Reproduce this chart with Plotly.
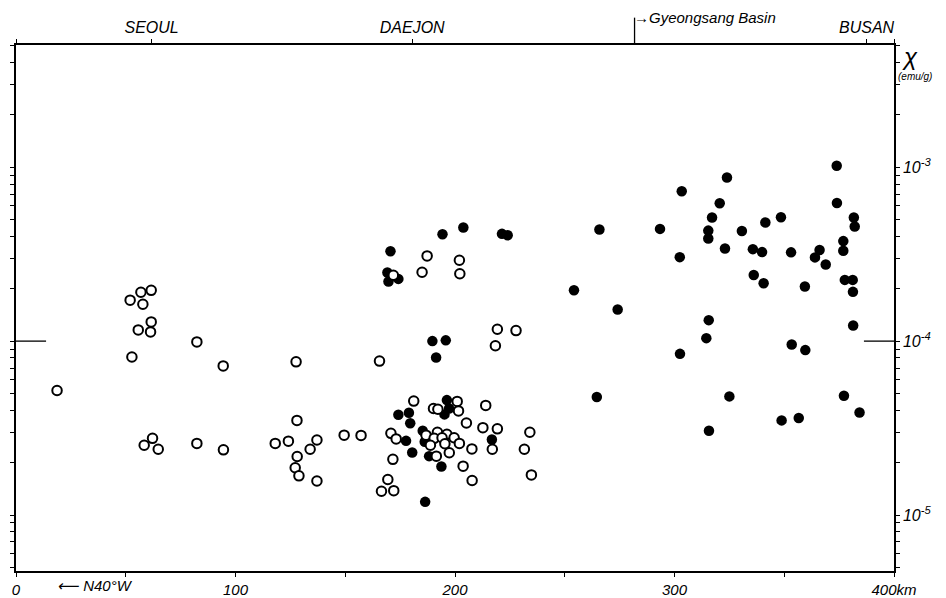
import plotly.graph_objects as go

# =====================================
# DATA  (distance along N40°W profile in km, susceptibility in emu/g)
# =====================================
OPEN_KM = [18.7, 52.0, 56.9, 61.6, 57.8, 61.6, 55.7, 61.3, 82.4, 52.8, 94.4, 127.6,
           128.0, 62.2, 58.4, 64.8, 82.4, 94.5, 118.1, 124.1, 137.1, 134.0, 128.1, 127.2,
           128.9, 137.1,
           187.3, 202.0, 185.0, 202.2, 171.9, 219.3, 227.8, 218.4, 165.6, 181.2, 201.0,
           190.2, 192.2, 201.6, 214.0, 205.2, 212.7, 219.3, 234.1, 149.5, 157.2, 170.8,
           173.2, 186.8, 192.0, 196.3, 199.6, 190.5, 194.1, 202.0, 188.8, 195.4, 207.7,
           217.0, 231.6, 197.4, 191.5, 171.7, 203.7, 234.8, 207.8, 169.4, 166.5, 172.1]
OPEN_CHI = [5.2e-5, 1.72e-4, 1.91e-4, 1.96e-4, 1.63e-4, 1.29e-4, 1.16e-4, 1.13e-4, 9.9e-5,
            8.1e-5, 7.2e-5, 7.6e-5, 3.5e-5, 2.76e-5, 2.52e-5, 2.39e-5, 2.58e-5, 2.37e-5,
            2.58e-5, 2.66e-5, 2.70e-5, 2.39e-5, 2.17e-5, 1.87e-5, 1.68e-5, 1.57e-5,
            3.09e-4, 2.92e-4, 2.49e-4, 2.44e-4, 2.39e-4, 1.17e-4, 1.15e-4, 9.4e-5, 7.68e-5,
            4.52e-5, 4.50e-5, 4.10e-5, 4.06e-5, 3.97e-5, 4.27e-5, 3.38e-5, 3.18e-5, 3.13e-5,
            2.99e-5, 2.88e-5, 2.87e-5, 2.95e-5, 2.74e-5, 2.88e-5, 2.99e-5, 2.91e-5, 2.78e-5,
            2.76e-5, 2.78e-5, 2.58e-5, 2.52e-5, 2.57e-5, 2.40e-5, 2.39e-5, 2.39e-5, 2.28e-5,
            2.18e-5, 2.09e-5, 1.91e-5, 1.70e-5, 1.58e-5, 1.60e-5, 1.37e-5, 1.38e-5]

FILLED_KM = [203.8, 194.3, 221.4, 224.0, 265.8, 170.6, 169.2, 169.7, 174.2, 254.2, 274.1,
             189.7, 195.8, 191.4, 264.6, 196.3, 197.3, 195.2, 174.2, 179.0, 179.6, 177.7,
             185.3, 186.2, 180.5, 188.2, 193.8, 216.8, 186.4,
             373.9, 323.9, 303.3, 320.6, 374.0, 317.1, 348.5, 381.7, 341.4, 382.1, 293.4,
             315.4, 330.7, 315.4, 376.9, 323.0, 335.7, 339.9, 353.1, 366.1, 376.9, 364.0,
             302.4, 368.9, 336.1, 340.6, 359.4, 377.6, 381.2, 381.3, 315.6, 381.4, 314.5,
             302.5, 353.4, 359.6, 325.0, 377.2, 384.3, 348.8, 356.6, 315.7]
FILLED_CHI = [4.50e-4, 4.12e-4, 4.14e-4, 4.06e-4, 4.38e-4, 3.29e-4, 2.48e-4, 2.20e-4, 2.28e-4,
              1.96e-4, 1.52e-4, 1.00e-4, 1.01e-4, 8.05e-5, 4.77e-5, 4.58e-5, 4.10e-5, 3.79e-5,
              3.77e-5, 3.87e-5, 3.37e-5, 2.67e-5, 3.05e-5, 2.64e-5, 2.29e-5, 2.18e-5, 1.90e-5,
              2.72e-5, 1.19e-5,
              1.02e-3, 8.73e-4, 7.28e-4, 6.21e-4, 6.23e-4, 5.14e-4, 5.16e-4, 5.14e-4, 4.81e-4,
              4.56e-4, 4.42e-4, 4.32e-4, 4.30e-4, 3.89e-4, 3.76e-4, 3.41e-4, 3.38e-4, 3.25e-4,
              3.24e-4, 3.34e-4, 3.31e-4, 3.03e-4, 3.04e-4, 2.76e-4, 2.40e-4, 2.15e-4, 2.06e-4,
              2.25e-4, 2.25e-4, 1.92e-4, 1.32e-4, 1.23e-4, 1.04e-4, 8.45e-5, 9.57e-5, 8.88e-5,
              4.81e-5, 4.85e-5, 3.89e-5, 3.50e-5, 3.61e-5, 3.05e-5]

CITY_KM = [0, 61.8, 180.5, 387.5, 400]
CITY_NAMES = ["", "SEOUL", "DAEJON", "BUSAN", ""]
BASIN_KM = 281.8
BASIN_LABEL = "→Gyeongsang Basin"

X_TICKS = [0, 100, 200, 300, 400]
X_LABELS = ["0", "100", "200", "300", "400km"]
DECADES = [-6, -5, -4, -3]
DECADE_LABELS = {-5: "10<sup>-5</sup>", -4: "10<sup>-4</sup>", -3: "10<sup>-3</sup>"}

Y_RANGE = [-5.322, -2.297]  # log10

# =====================================
# log tick marks (1..9 per decade), labels only at decades
# =====================================
y_vals, y_text = [], []
for d in DECADES:
    for m in range(1, 10):
        v = m * 10.0 ** d
        y_vals.append(v)
        y_text.append(DECADE_LABELS.get(d, " ") if m == 1 else " ")

FONT = dict(family="Liberation Sans", color="black", style="italic")

fig = go.Figure()
fig.add_trace(go.Scatter(x=FILLED_KM, y=FILLED_CHI, mode="markers",
                         marker=dict(size=10.5, color="black"), showlegend=False))
fig.add_trace(go.Scatter(x=OPEN_KM, y=OPEN_CHI, mode="markers",
                         marker=dict(size=9.5, color="white", line=dict(color="black", width=2)),
                         showlegend=False))
# dummy trace so the top city axis is drawn
fig.add_trace(go.Scatter(x=[], y=[], xaxis="x2", showlegend=False))

# page body has an 8px margin, so the figure is sized to fit inside the window
fig.update_layout(
    width=938, height=590,
    margin=dict(l=8, r=52, t=37, b=27),
    paper_bgcolor="white", plot_bgcolor="white",
    xaxis=dict(range=[0, 400], showline=True, linecolor="black", linewidth=1.5, mirror=True,
               showgrid=False, zeroline=False, ticks="outside", ticklen=4, tickcolor="black",
               tickvals=X_TICKS, ticktext=X_LABELS, tickfont=dict(size=15, **FONT),
               automargin=False, ticklabelstandoff=0,
               minor=dict(ticks="outside", dtick=50, ticklen=4, tickcolor="black")),
    xaxis2=dict(range=[0, 400], overlaying="x", side="top", showline=False, showgrid=False,
                zeroline=False, ticks="outside", ticklen=5, tickcolor="black", automargin=False,
                tickvals=CITY_KM, ticktext=CITY_NAMES, tickfont=dict(size=16, **FONT)),
    yaxis=dict(type="log", range=Y_RANGE, side="right", showline=True, linecolor="black",
               linewidth=1.5, mirror="ticks", showgrid=False, zeroline=False,
               ticks="outside", ticklen=4, tickcolor="black", automargin=False,
               tickvals=y_vals, ticktext=y_text, tickfont=dict(size=16, **FONT)),
    shapes=[
        dict(type="line", xref="x", yref="y", x0=0, x1=13.7, y0=1e-4, y1=1e-4,
             line=dict(color="black", width=1.3)),
        dict(type="line", xref="x", yref="y", x0=386.3, x1=400, y0=1e-4, y1=1e-4,
             line=dict(color="black", width=1.3)),
        dict(type="line", xref="x", yref="paper", x0=BASIN_KM, x1=BASIN_KM, y0=1, y1=1.052,
             line=dict(color="black", width=1.3)),
    ],
    annotations=[
        dict(x=BASIN_KM, y=1.052, xref="x", yref="paper", text=BASIN_LABEL, showarrow=False,
             xanchor="left", yanchor="middle", xshift=-3, font=dict(size=15, **FONT)),
        dict(x=1, y=1, xref="paper", yref="paper", text="χ", showarrow=False,
             xanchor="left", yanchor="top", xshift=6, yshift=4, font=dict(size=24, **FONT)),
        dict(x=1, y=1, xref="paper", yref="paper", text="(emu/g)", showarrow=False,
             xanchor="left", yanchor="top", xshift=2, yshift=-24, font=dict(size=10, **FONT)),
        dict(x=36, y=0, xref="x", yref="paper", text="⟵ N40°W", showarrow=False,
             xanchor="center", yanchor="top", yshift=-4, font=dict(size=15, **FONT)),
    ],
)

fig.write_html("out.html")
